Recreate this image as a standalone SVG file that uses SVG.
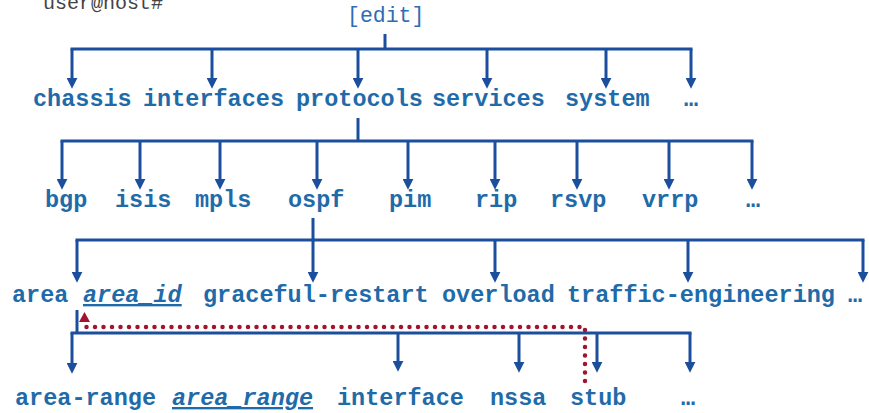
<svg xmlns="http://www.w3.org/2000/svg" width="869" height="413" viewBox="0 0 869 413">
  <defs>
    <marker id="arr" viewBox="0 0 10 10" refX="2" refY="5" markerWidth="11" markerHeight="11" markerUnits="userSpaceOnUse" orient="auto">
      <path d="M0,0 L10,5 L0,10 z" fill="#1B4F9D"/>
    </marker>
    <style>
      .lbl { font-family: "Liberation Mono", "Courier New", monospace; font-weight: bold; font-size: 23.5px; fill: #1F6BA9; }
      .var { font-style: italic; text-decoration: underline; }
      .prompt { font-family: "Liberation Mono", "Courier New", monospace; font-size: 20px; fill: #444444; }
      .root { font-family: "Liberation Mono", "Courier New", monospace; font-size: 21.5px; fill: #2E6DB4; }
      .bar { stroke: #1B4F9D; stroke-width: 3; fill: none; }
      .drop { stroke: #1B4F9D; stroke-width: 3; fill: none; marker-end: url(#arr); }
      .trace { stroke: #A3122F; stroke-width: 4.5; fill: none; stroke-dasharray: 0 8.5; stroke-linecap: round; }
    </style>
  </defs>

  <rect width="869" height="413" fill="#ffffff"/>

  <text class="prompt" x="43" y="9">user@host#</text>

  <!-- hierarchy nodes -->
  <g id="edit"><text class="root" x="347" y="22">[edit]</text></g>

  <g id="chassis"><text class="lbl" x="33" y="106">chassis</text></g>
  <g id="interfaces"><text class="lbl" x="143" y="106">interfaces</text></g>
  <g id="protocols"><text class="lbl" x="296" y="106">protocols</text></g>
  <g id="services"><text class="lbl" x="432" y="106">services</text></g>
  <g id="system"><text class="lbl" x="565" y="106">system</text></g>
  <g id="more1"><text class="lbl" x="684" y="106">…</text></g>

  <g id="bgp"><text class="lbl" x="45" y="207">bgp</text></g>
  <g id="isis"><text class="lbl" x="115" y="207">isis</text></g>
  <g id="mpls"><text class="lbl" x="195" y="207">mpls</text></g>
  <g id="ospf"><text class="lbl" x="288" y="207">ospf</text></g>
  <g id="pim"><text class="lbl" x="389" y="207">pim</text></g>
  <g id="rip"><text class="lbl" x="475" y="207">rip</text></g>
  <g id="rsvp"><text class="lbl" x="550" y="207">rsvp</text></g>
  <g id="vrrp"><text class="lbl" x="642" y="207">vrrp</text></g>
  <g id="more2"><text class="lbl" x="746" y="207">…</text></g>

  <g id="area">
    <text class="lbl" x="12" y="302">area</text>
    <text class="lbl var" x="83" y="302">area_id</text>
  </g>
  <g id="graceful-restart"><text class="lbl" x="203" y="302">graceful-restart</text></g>
  <g id="overload"><text class="lbl" x="442" y="302">overload</text></g>
  <g id="traffic-engineering"><text class="lbl" x="567" y="302">traffic-engineering</text></g>
  <g id="more3"><text class="lbl" x="848" y="302">…</text></g>

  <g id="area-range">
    <text class="lbl" x="15" y="405">area-range</text>
    <text class="lbl var" x="172" y="405">area_range</text>
  </g>
  <g id="interface"><text class="lbl" x="337" y="405">interface</text></g>
  <g id="nssa"><text class="lbl" x="490" y="405">nssa</text></g>
  <g id="stub"><text class="lbl" x="570" y="405">stub</text></g>
  <g id="more4"><text class="lbl" x="681" y="405">…</text></g>

  <!-- connectors -->
  <g id="connectors">
    <!-- [edit] -> first level -->
    <line class="bar" x1="385" y1="34" x2="385" y2="49"/>
    <line class="bar" x1="70.5" y1="49" x2="692.5" y2="49"/>
    <line class="drop" x1="72" y1="49" x2="72" y2="80"/>
    <line class="drop" x1="212" y1="49" x2="212" y2="80"/>
    <line class="drop" x1="358" y1="49" x2="358" y2="80"/>
    <line class="drop" x1="487" y1="49" x2="487" y2="80"/>
    <line class="drop" x1="606" y1="49" x2="606" y2="80"/>
    <line class="drop" x1="691" y1="49" x2="691" y2="80"/>

    <!-- protocols -> second level -->
    <line class="bar" x1="358" y1="118" x2="358" y2="141"/>
    <line class="bar" x1="60.5" y1="141" x2="753.5" y2="141"/>
    <line class="drop" x1="62" y1="141" x2="62" y2="181"/>
    <line class="drop" x1="140" y1="141" x2="140" y2="181"/>
    <line class="drop" x1="220" y1="141" x2="220" y2="181"/>
    <line class="drop" x1="317" y1="141" x2="317" y2="181"/>
    <line class="drop" x1="408" y1="141" x2="408" y2="181"/>
    <line class="drop" x1="495" y1="141" x2="495" y2="181"/>
    <line class="drop" x1="577" y1="141" x2="577" y2="181"/>
    <line class="drop" x1="669" y1="141" x2="669" y2="181"/>
    <line class="drop" x1="752" y1="141" x2="752" y2="181"/>

    <!-- ospf -> third level -->
    <line class="bar" x1="313" y1="218" x2="313" y2="240"/>
    <line class="bar" x1="75.5" y1="240" x2="864.5" y2="240"/>
    <line class="drop" x1="77" y1="240" x2="77" y2="274"/>
    <line class="drop" x1="313" y1="240" x2="313" y2="274"/>
    <line class="drop" x1="495" y1="240" x2="495" y2="274"/>
    <line class="drop" x1="688" y1="240" x2="688" y2="274"/>
    <line class="drop" x1="863" y1="240" x2="863" y2="274"/>

    <!-- area -> fourth level -->
    <line class="bar" x1="77" y1="310" x2="77" y2="333" stroke-width="4"/>
    <line class="bar" x1="70.5" y1="333" x2="691.5" y2="333"/>
    <line class="drop" x1="72" y1="333" x2="72" y2="365"/>
    <line class="drop" x1="398" y1="333" x2="398" y2="363"/>
    <line class="drop" x1="519" y1="333" x2="519" y2="364"/>
    <line class="drop" x1="597" y1="333" x2="597" y2="364"/>
    <line class="drop" x1="690" y1="333" x2="690" y2="364"/>

    <!-- stub refers back to area_id -->
    <polyline class="trace" points="585,381 585,327 84,327"/>
    <polygon points="79,322 90,322 84.5,312" fill="#A3122F"/>
  </g>
</svg>
